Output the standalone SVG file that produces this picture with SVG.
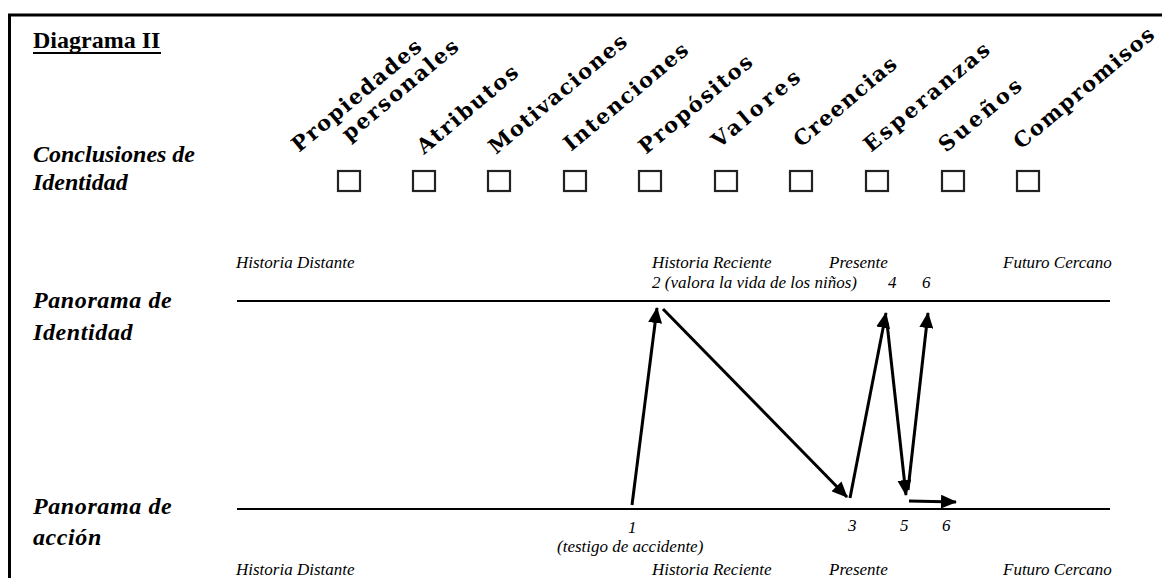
<svg xmlns="http://www.w3.org/2000/svg" width="1162" height="578" viewBox="0 0 1162 578">
<style>
.title{font-family:"Liberation Serif","Times New Roman",serif;font-weight:bold;font-size:24px;fill:#000}
.lab{font-family:"Liberation Serif","Times New Roman",serif;font-weight:bold;font-style:italic;font-size:24px;fill:#000}
.rot{font-family:"DejaVu Serif",serif;font-weight:bold;font-size:21px;fill:#000}
.small{font-family:"Liberation Serif","Times New Roman",serif;font-style:italic;font-size:17px;fill:#000}
.box{fill:#fff;stroke:#222;stroke-width:2.2}
.axis{stroke:#000;stroke-width:2}
.arr{stroke:#000;stroke-width:3;fill:none;marker-end:url(#ah)}
</style>
<defs>
<marker id="ah" markerUnits="userSpaceOnUse" markerWidth="16" markerHeight="14" refX="15" refY="7" orient="auto">
<path d="M0,0 L16,7 L0,14 Z" fill="#000"/>
</marker>
</defs>
<rect width="1162" height="578" fill="#fff"/>
<g id="frame">
<line x1="8" y1="15" x2="1162" y2="15" stroke="#000" stroke-width="3"/>
<line x1="9.5" y1="14" x2="9.5" y2="578" stroke="#000" stroke-width="3"/>
</g>
<g id="title">
<text class="title" x="33" y="48">Diagrama II</text>
<line x1="33" y1="53" x2="161" y2="53" stroke="#000" stroke-width="2"/>
</g>
<g id="conclusiones">
<text class="lab" x="33" y="162">Conclusiones de</text>
<text class="lab" x="33" y="190">Identidad</text>
</g>
<g id="categorias">
<text class="rot" transform="translate(299,153) rotate(-40)" textLength="162">Propiedades</text>
<text class="rot" transform="translate(349,142) rotate(-40)" textLength="145">personales</text>
<text class="rot" transform="translate(424,155) rotate(-40)" textLength="125">Atributos</text>
<text class="rot" transform="translate(496,155) rotate(-40)" textLength="173">Motivaciones</text>
<text class="rot" transform="translate(571,152) rotate(-40)" textLength="155">Intenciones</text>
<text class="rot" transform="translate(646,155) rotate(-40)" textLength="141">Propósitos</text>
<text class="rot" transform="translate(719,149) rotate(-40)" textLength="108">Valores</text>
<text class="rot" transform="translate(801,148) rotate(-40)" textLength="127">Creencias</text>
<text class="rot" transform="translate(871,153) rotate(-40)" textLength="157">Esperanzas</text>
<text class="rot" transform="translate(946,153) rotate(-40)" textLength="101">Sueños</text>
<text class="rot" transform="translate(1021,150) rotate(-40)" textLength="176">Compromisos</text>
</g>
<g id="casillas">
<rect class="box" x="338" y="171" width="22" height="20"/>
<rect class="box" x="413" y="171" width="22" height="20"/>
<rect class="box" x="488" y="171" width="22" height="20"/>
<rect class="box" x="564" y="171" width="22" height="20"/>
<rect class="box" x="639" y="171" width="22" height="20"/>
<rect class="box" x="715" y="171" width="22" height="20"/>
<rect class="box" x="790" y="171" width="22" height="20"/>
<rect class="box" x="866" y="171" width="22" height="20"/>
<rect class="box" x="942" y="171" width="22" height="20"/>
<rect class="box" x="1017" y="171" width="22" height="20"/>
</g>
<g id="panorama-identidad">
<text class="lab" x="33" y="308" letter-spacing="0.6">Panorama de</text>
<text class="lab" x="33" y="340" letter-spacing="0.6">Identidad</text>
<text class="small" x="236" y="268">Historia Distante</text>
<text class="small" x="652" y="268">Historia Reciente</text>
<text class="small" x="829" y="268">Presente</text>
<text class="small" x="1003" y="268">Futuro Cercano</text>
<text class="small" x="652" y="288">2 (valora la vida de los niños)</text>
<text class="small" x="888" y="288">4</text>
<text class="small" x="922" y="288">6</text>
<line class="axis" x1="237" y1="301" x2="1110" y2="301"/>
</g>
<g id="panorama-accion">
<text class="lab" x="33" y="514" letter-spacing="0.6">Panorama de</text>
<text class="lab" x="33" y="545" letter-spacing="0.6">acción</text>
<line class="axis" x1="237" y1="509" x2="1110" y2="509"/>
<text class="small" x="628" y="533">1</text>
<text class="small" x="557" y="552">(testigo de accidente)</text>
<text class="small" x="848" y="531">3</text>
<text class="small" x="900" y="531">5</text>
<text class="small" x="942" y="531">6</text>
<text class="small" x="236" y="575">Historia Distante</text>
<text class="small" x="652" y="575">Historia Reciente</text>
<text class="small" x="829" y="575">Presente</text>
<text class="small" x="1003" y="575">Futuro Cercano</text>
</g>
<g id="connectors">
<line class="arr" x1="632" y1="505" x2="657" y2="308"/>
<line class="arr" x1="663" y1="309" x2="847" y2="497"/>
<line class="arr" x1="850" y1="498" x2="886" y2="313"/>
<line class="arr" x1="887" y1="323" x2="906" y2="495"/>
<line class="arr" x1="908" y1="490" x2="928" y2="313"/>
<line class="arr" x1="909" y1="501" x2="956" y2="502"/>
</g>
</svg>
